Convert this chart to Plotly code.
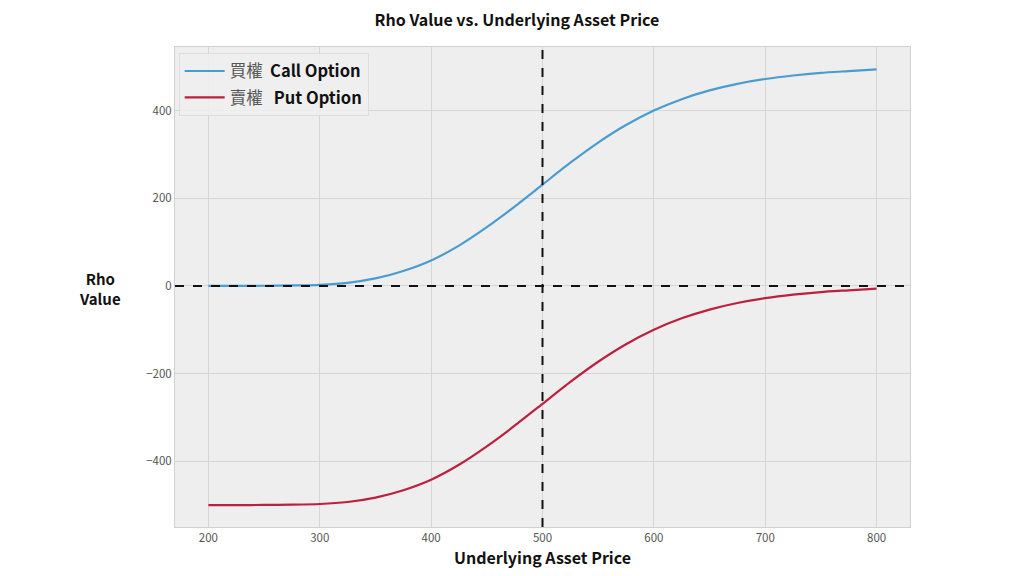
import plotly.graph_objects as go

# Underlying asset price
prices = [200, 225, 250, 275, 300, 325, 350, 375, 400, 425, 450, 475, 500,
          525, 550, 575, 600, 625, 650, 675, 700, 725, 750, 775, 800]
# Rho values
call_rho = [0, 0, 0.3, 1, 2.5, 7, 17, 34, 58, 92, 134, 181, 231,
            281, 327, 367, 400, 426, 446, 461, 472, 480, 486, 490, 494]
put_rho = [-500, -500, -499.7, -499, -497.5, -493, -483, -466, -442, -408, -366, -319, -269,
           -219, -173, -133, -100, -74, -54, -39, -28, -20, -14, -10, -6]

strike_price = 500
zero_level = 0
x_ticks = [200, 300, 400, 500, 600, 700, 800]
y_ticks = [-400, -200, 0, 200, 400]

FONT = "Noto Sans CJK TC"

fig = go.Figure()
fig.add_trace(go.Scatter(
    x=prices, y=call_rho, mode="lines", legendgroup="call",
    name="<span style='color:#555555'>買權</span>  <b>Call Option</b>",
    line=dict(color="#4a9cd0", width=2.2, shape="spline", smoothing=0.6),
))
fig.add_trace(go.Scatter(
    x=prices, y=put_rho, mode="lines", legendgroup="put",
    name="<span style='color:#555555'>賣權</span>   <b>Put Option</b>",
    line=dict(color="#bd1f3f", width=2.2, shape="spline", smoothing=0.6),
))

fig.add_hline(y=zero_level, line=dict(color="#111111", width=2, dash="dash"))
fig.add_vline(x=strike_price, line=dict(color="#111111", width=2, dash="dash"))

fig.update_layout(
    width=1024, height=576,
    paper_bgcolor="white", plot_bgcolor="#eeeeee",
    margin=dict(l=167, r=122, t=39, b=57),
    font=dict(family=FONT, color="#111111"),
    title=dict(text="<b>Rho Value vs. Underlying Asset Price</b>",
               x=0.497, xanchor="center", y=0.978, yanchor="middle",
               font=dict(size=16, family=FONT, color="#111111")),
    showlegend=True,
    legend=dict(x=0.005, y=0.988, xanchor="left", yanchor="top",
                bgcolor="rgba(238,238,238,0.9)", bordercolor="#dddddd", borderwidth=1,
                font=dict(size=16.5, family=FONT, color="#111111"),
                tracegroupgap=2, itemwidth=40),
    annotations=[dict(text="<b>Rho<br>Value</b>", xref="paper", yref="paper",
                      x=-0.102, y=0.497, xanchor="center", yanchor="middle",
                      showarrow=False, font=dict(size=15, family=FONT, color="#111111"))],
)
fig.update_xaxes(
    range=[170, 830], tickvals=x_ticks, ticks="",
    tickfont=dict(size=11.5, color="#555555", family=FONT),
    showgrid=True, gridcolor="#d6d6d6", gridwidth=1, zeroline=False,
    showline=True, linecolor="#d0d0d0", linewidth=1, mirror=True,
    title=dict(text="<b>Underlying Asset Price</b>", standoff=7,
               font=dict(size=16, family=FONT, color="#111111")),
)
fig.update_yaxes(
    range=[-550, 545], tickvals=y_ticks, ticks="",
    tickfont=dict(size=11.5, color="#555555", family=FONT),
    showgrid=True, gridcolor="#d6d6d6", gridwidth=1, zeroline=False,
    showline=True, linecolor="#d0d0d0", linewidth=1, mirror=True,
)

fig.write_html("out.html")
